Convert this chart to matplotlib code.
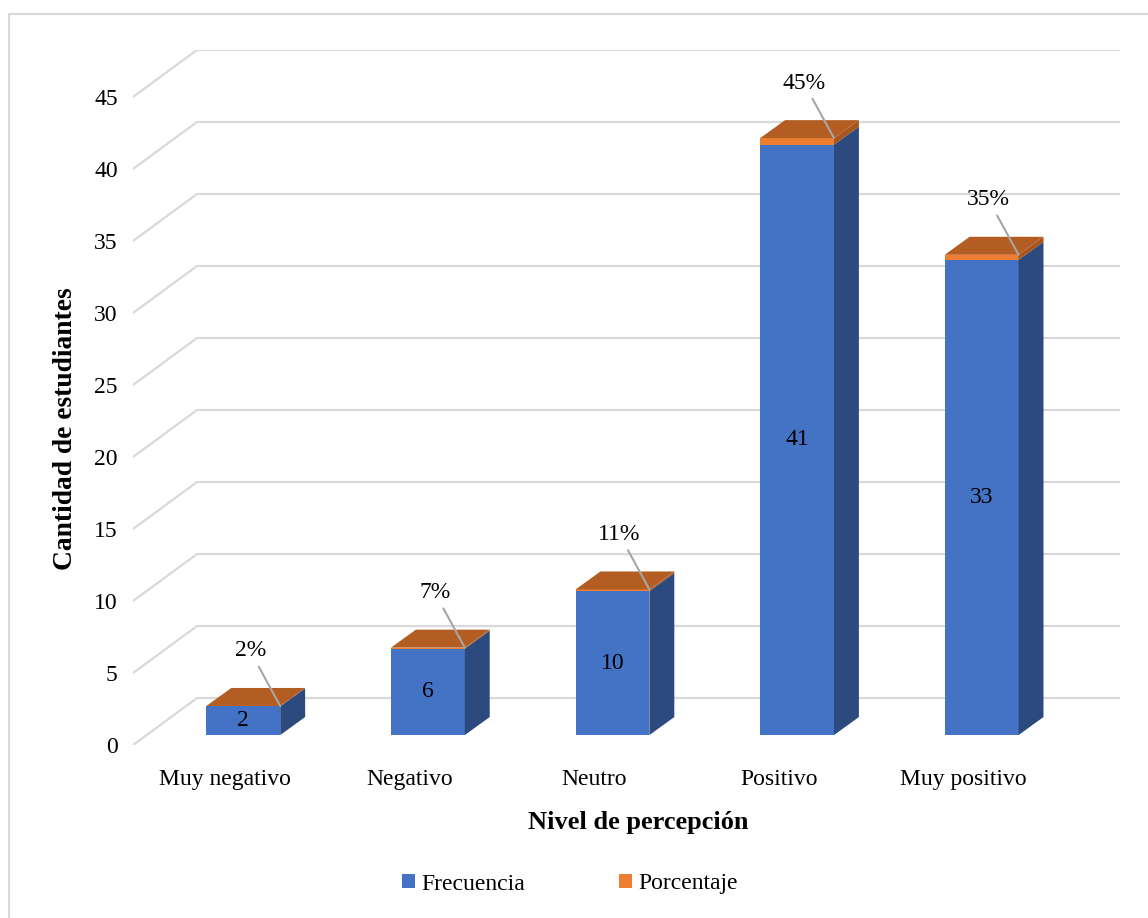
import matplotlib.pyplot as plt
from matplotlib.patches import Polygon, Patch, Rectangle

plt.rcParams['font.family'] = ['Liberation Serif', 'DejaVu Serif']

niveles = ['Muy negativo', 'Negativo', 'Neutro', 'Positivo', 'Muy positivo']
frecuencia = [2, 6, 10, 41, 33]
porcentaje = [0.02, 0.07, 0.11, 0.45, 0.35]
etiquetas_pct = ['2%', '7%', '11%', '45%', '35%']
yticks = list(range(0, 50, 5))

# fake 3d: depth of the floor/walls and where the bars sit inside it
DX, DY = 0.347, 3.26          # full depth of the plot box
BX, BY = 0.0975, 0.69         # front face offset of each bar
SX, SY = 0.135, 1.25          # bar depth
W = 0.40                      # bar width

azul, azul_lado = '#4472C4', '#2C4A7E'
naranja, naranja_lado, naranja_tapa = '#ED7D31', '#A9541D', '#B35D23'
grid_c = '#D9D9D9'

fig = plt.figure(figsize=(11.48, 9.18), dpi=100)
ax = fig.add_axes([133 / 1148, 1 - 745 / 918, (1120 - 133) / 1148, (745 - 50) / 918])
ax.set_xlim(-0.5, 4.5 + DX)
ax.set_ylim(0, 45 + DY)

# grid: diagonal on the side wall, then flat along the back wall
for v in yticks:
    ax.plot([-0.5, -0.5 + DX, 4.5 + DX], [v, v + DY, v + DY],
            color=grid_c, lw=1.6, solid_capstyle='butt', zorder=1)


def caja(x0, y0, y1, frente, lado, tapa=None):
    x1 = x0 + W
    ax.add_patch(Polygon([(x0, y0), (x1, y0), (x1, y1), (x0, y1)],
                         closed=True, fc=frente, ec='none', zorder=3))
    ax.add_patch(Polygon([(x1, y0), (x1 + SX, y0 + SY), (x1 + SX, y1 + SY), (x1, y1)],
                         closed=True, fc=lado, ec='none', zorder=3))
    if tapa is not None:
        ax.add_patch(Polygon([(x0, y1), (x1, y1), (x1 + SX, y1 + SY), (x0 + SX, y1 + SY)],
                             closed=True, fc=tapa, ec='none', zorder=3))


for i, (f, p, lab) in enumerate(zip(frecuencia, porcentaje, etiquetas_pct)):
    x0 = i + BX - W / 2
    caja(x0, BY, BY + f, azul, azul_lado)
    caja(x0, BY + f, BY + f + p, naranja, naranja_lado, naranja_tapa)
    ax.text(x0 + W / 2, BY + f / 2, str(f), ha='center', va='center',
            fontsize=17, color='black', zorder=4)
    ax.annotate(lab, xy=(x0 + W, BY + f + p), xytext=(-30, 55),
                textcoords='offset pixels', ha='center', va='center',
                fontsize=17, zorder=4,
                arrowprops=dict(arrowstyle='-', color='#A6A6A6', lw=1.5,
                                shrinkA=2, shrinkB=0))

ax.set_yticks(yticks)
ax.set_yticklabels([str(v) for v in yticks], fontsize=17)
ax.set_xticks(range(len(niveles)))
ax.set_xticklabels(niveles, fontsize=17)
ax.tick_params(axis='y', length=0, pad=11)
ax.tick_params(axis='x', length=0, pad=17)
for s in ax.spines.values():
    s.set_visible(False)
ax.patch.set_visible(False)

fig.text(638 / 1148, 1 - 822 / 918, 'Nivel de percepción', ha='center', va='center',
         fontsize=19, fontweight='bold')
fig.text(66 / 1148, 1 - 429 / 918, 'Cantidad de estudiantes', ha='center', va='center',
         fontsize=19.8, fontweight='bold', rotation=90)

fig.legend(handles=[Patch(fc=azul, label='Frecuencia'), Patch(fc=naranja, label='Porcentaje')],
           loc='center', bbox_to_anchor=(570 / 1148, 1 - 884 / 918), ncol=2, frameon=False,
           fontsize=17, handlelength=0.55, handleheight=0.55, handletextpad=0.25,
           columnspacing=4.0)

# chart frame
fig.patches.append(Rectangle((9 / 1148, -0.05), 1.2, 1 - 14 / 918 + 0.05,
                             transform=fig.transFigure, fill=False, ec='#D9D9D9', lw=1.5))

fig.savefig('out.png', dpi=100)
